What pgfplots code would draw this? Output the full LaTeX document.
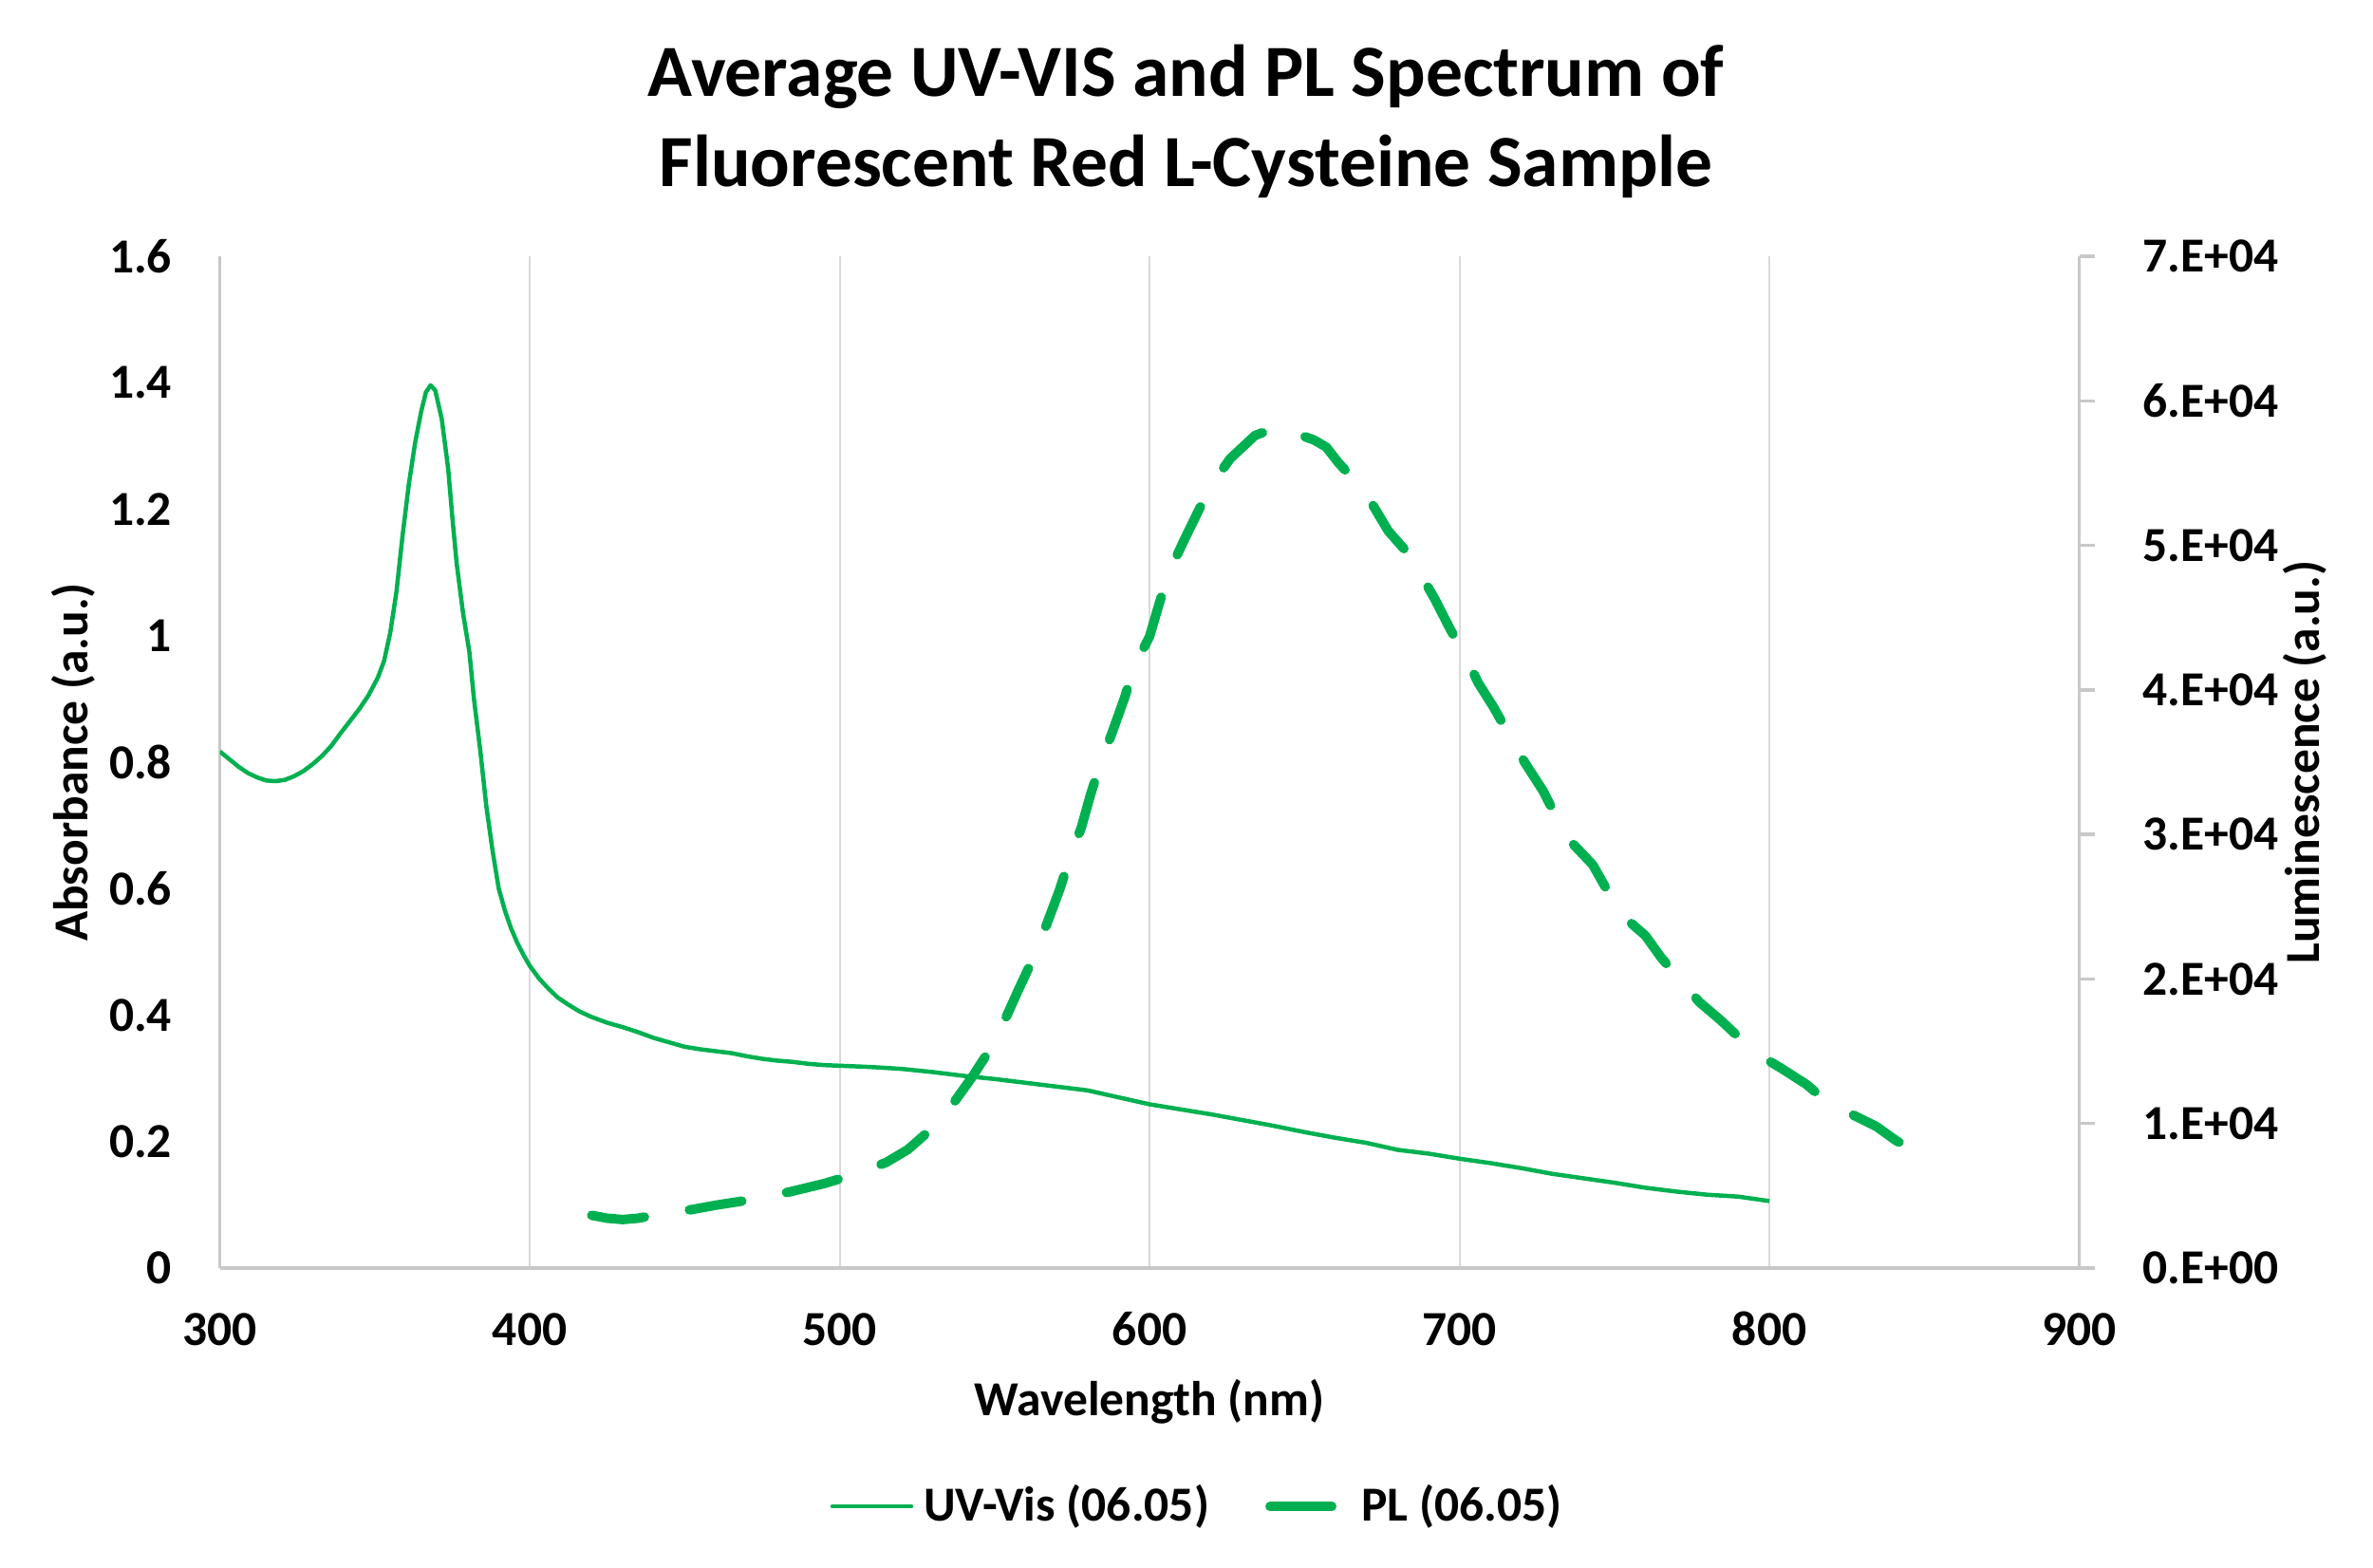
\documentclass[border=0pt]{standalone}
\usepackage{fontspec}
\setmainfont{Carlito}
\usepackage{pgfplots}
\usepackage{pgfplotstable}
\pgfplotsset{compat=1.18}
\definecolor{plgreen}{HTML}{00B050}
\definecolor{gridgray}{HTML}{D9D9D9}
\definecolor{axisgray}{HTML}{C8C8C8}
\newcommand{\lblfont}{\bfseries\fontsize{10.3}{12.4}\selectfont}
\newcommand{\ttlfont}{\bfseries\fontsize{15.5}{18.6}\selectfont}
\pgfplotsset{
  uvleg/.style={legend image code/.code={\draw[##1] (0pt,0pt) -- (16.6pt,0pt); \path (18.8pt,0pt);}},
  plleg/.style={legend image code/.code={\draw[##1, solid] (1pt,0pt) -- (14pt,0pt); \path (19.3pt,0pt);}},
}

\pgfplotstableread{
x y
300 0.817
303 0.805
306 0.793
309 0.783
312 0.776
315 0.771
318 0.770
321 0.772
324 0.778
327 0.786
330 0.797
333 0.810
336 0.826
339 0.846
342 0.865
345 0.884
348 0.906
351 0.934
353 0.960
355 1.005
357 1.070
359 1.160
361 1.240
363 1.305
365 1.355
366.5 1.385
368 1.396
369.5 1.388
371.6 1.343
373.7 1.263
375.1 1.183
376.4 1.115
378.5 1.035
380.5 0.975
382 0.900
384 0.820
386 0.730
388 0.660
390 0.600
392 0.565
394 0.537
396 0.514
398 0.495
400 0.478
403 0.458
406 0.442
409 0.428
412 0.418
416 0.406
420 0.397
425 0.388
430 0.381
435 0.373
440 0.364
445 0.357
450 0.350
455 0.346
460 0.343
465 0.340
470 0.335
475 0.331
480 0.328
485 0.326
490 0.323
495 0.321
500 0.320
510 0.318
520 0.315
530 0.310
540 0.304
550 0.299
560 0.293
570 0.287
580 0.281
590 0.270
600 0.259
610 0.251
620 0.243
630 0.234
640 0.225
650 0.215
660 0.206
670 0.198
680 0.187
690 0.181
700 0.173
710 0.166
720 0.158
730 0.149
740 0.142
750 0.135
760 0.127
770 0.121
780 0.116
790 0.113
800 0.106
}\uvdata

\pgfplotstableread{
x y
420 3650
425 3450
430 3360
435 3450
440 3650
445 3850
452 4040
460 4350
471 4720
484 5280
495 5850
502 6300
510 6900
515 7310
522 8200
530 9700
537 11500
543 13300
549 15300
554 17500
558 19400
563 21700
567 23900
571 26200
574 28200
578 30500
581 32800
584 34800
588 37100
592 39500
595 41600
600 43700
603 45900
606 48000
611 50300
616 52500
620 54200
626 56000
634 57600
641.5 58200
645 58000
649 57600
653 57300
657 56800
661 55700
667 54300
672 52800
677 51000
684 49300
688 47800
692 46300
697 44200
702 42300
706 40500
711 38800
716 36900
721 35000
727 33000
731 31300
735.5 29600
743 27900
748 26000
753 24300
760 23000
765 21500
771 20000
777.4 18400
784 17200
790 16000
797 14700
804 13800
812 12700
818 11600
826 10700
834.5 9800
841 8800
846 8300
851 7900
}\pldata

\begin{document}
\begin{tikzpicture}
\pgfplotsset{
  every axis/.append style={
    scale only axis, width=391.8pt, height=213.2pt,
    xmin=300, xmax=900,
    /pgf/number format/assume math mode=true,
    tick label style={font=\lblfont},
    label style={font=\lblfont},
  }
}
\path[use as bounding box] (-46.32pt,-63pt) rectangle (453.68pt,267.2pt);
\begin{axis}[name=ax, at={(0,0)}, anchor=south west,
  ymin=0, ymax=1.6,
  axis x line*=bottom, axis y line*=left,
  axis line style={draw=axisgray, line width=0.7pt},
  xtick={300,400,500,600,700,800,900},
  xticklabels={300,400,500,600,700,800,900},
  ytick={0,0.2,0.4,0.6,0.8,1,1.2,1.4,1.6},
  yticklabels={0,0.2,0.4,0.6,0.8,1,1.2,1.4,1.6},
  major tick length=0pt,
  xmajorgrids, grid style={draw=gridgray, line width=0.4pt},
  xticklabel style={anchor=base, inner sep=0pt, yshift=-16.2pt},
  yticklabel style={anchor=east, inner sep=0pt, xshift=-9.9pt},
  xlabel={Wavelength (nm)},
  xlabel style={at={(axis description cs:0.5,-0.1454)}, anchor=base, inner sep=0pt},
  ylabel={Absorbance (a.u.)},
  ylabel style={at={(axis description cs:-0.0708,0.5)}, anchor=base, inner sep=0pt},
]
\addplot[plgreen, line width=0.9pt, line join=round] table[x=x,y=y] {\uvdata};
\end{axis}
\begin{axis}[at={(0,0)}, anchor=south west,
  ymin=0, ymax=70000,
  axis x line=none, axis y line*=right,
  axis line style={draw=axisgray, line width=0.7pt},
  ytick={0,10000,20000,30000,40000,50000,60000,70000},
  yticklabels={0.E+00,1.E+04,2.E+04,3.E+04,4.E+04,5.E+04,6.E+04,7.E+04},
  scaled y ticks=false,
  tick align=outside, major tick length=3.3pt,
  tick style={draw=axisgray, line width=0.7pt},
  yticklabel style={anchor=west, inner sep=0pt, xshift=9.9pt},
  ylabel={Luminescence (a.u.)},
  every axis y label/.style={at={(axis description cs:1.1289,0.5)}, rotate=90, anchor=base, inner sep=0pt, font=\lblfont},
  legend columns=2,
  legend cell align=left,
  legend style={at={(axis description cs:0.3283,-0.2355)}, anchor=west,
    draw=none, fill=none, inner sep=0pt, outer sep=0pt,
    font=\lblfont,
    nodes={inner sep=0pt},
    /tikz/every even column/.append style={column sep=11.8pt}},
]
\addlegendimage{plgreen, line width=0.9pt, line cap=round, uvleg}
\addlegendentry{UV-Vis (06.05)}
\addplot[plgreen, line width=2pt, line cap=round, line join=round,
  dash pattern=on 11.2pt off 9.6pt, plleg]
  table[x=x,y=y] {\pldata};
\addlegendentry{PL (06.05)}
\end{axis}
\node[anchor=base, font=\ttlfont, inner sep=0pt] at ([xshift=203.6pt, yshift=33.7pt]ax.north west) {Average UV-VIS and PL Spectrum of};
\node[anchor=base, font=\ttlfont, inner sep=0pt] at ([xshift=203.6pt, yshift=14.8pt]ax.north west) {Fluorescent Red L-Cysteine Sample};
\end{tikzpicture}
\end{document}
